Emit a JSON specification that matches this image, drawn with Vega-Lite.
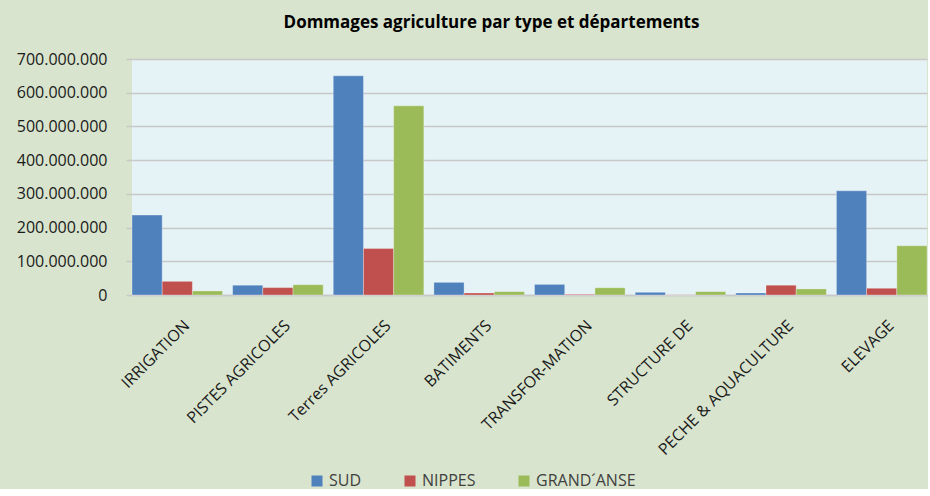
{
  "$schema": "https://vega.github.io/schema/vega-lite/v6.json",
  "width": 795,
  "height": 236,
  "padding": {"left": 16, "top": 14, "right": 0, "bottom": 0},
  "background": "#D8E4CD",
  "title": {
    "text": "Dommages agriculture par type et départements",
    "font": "Open Sans",
    "fontSize": 17,
    "fontWeight": "bold",
    "color": "#000000",
    "anchor": "middle",
    "dx": -38,
    "offset": 19
  },
  "data": {
    "values": [
      {"type": "IRRIGATION", "dept": "SUD", "value": 237000000},
      {"type": "IRRIGATION", "dept": "NIPPES", "value": 40500000},
      {"type": "IRRIGATION", "dept": "GRAND´ANSE", "value": 12000000},
      {"type": "PISTES AGRICOLES", "dept": "SUD", "value": 29000000},
      {"type": "PISTES AGRICOLES", "dept": "NIPPES", "value": 22000000},
      {"type": "PISTES AGRICOLES", "dept": "GRAND´ANSE", "value": 30500000},
      {"type": "Terres AGRICOLES", "dept": "SUD", "value": 650000000},
      {"type": "Terres AGRICOLES", "dept": "NIPPES", "value": 138000000},
      {"type": "Terres AGRICOLES", "dept": "GRAND´ANSE", "value": 561000000},
      {"type": "BATIMENTS", "dept": "SUD", "value": 37500000},
      {"type": "BATIMENTS", "dept": "NIPPES", "value": 6000000},
      {"type": "BATIMENTS", "dept": "GRAND´ANSE", "value": 10000000},
      {"type": "TRANSFOR-MATION", "dept": "SUD", "value": 31500000},
      {"type": "TRANSFOR-MATION", "dept": "NIPPES", "value": 2000000},
      {"type": "TRANSFOR-MATION", "dept": "GRAND´ANSE", "value": 21500000},
      {"type": "STRUCTURE DE", "dept": "SUD", "value": 8000000},
      {"type": "STRUCTURE DE", "dept": "NIPPES", "value": 500000},
      {"type": "STRUCTURE DE", "dept": "GRAND´ANSE", "value": 10000000},
      {"type": "PECHE & AQUACULTURE", "dept": "SUD", "value": 6000000},
      {"type": "PECHE & AQUACULTURE", "dept": "NIPPES", "value": 29000000},
      {"type": "PECHE & AQUACULTURE", "dept": "GRAND´ANSE", "value": 18000000},
      {"type": "ELEVAGE", "dept": "SUD", "value": 309000000},
      {"type": "ELEVAGE", "dept": "NIPPES", "value": 20000000},
      {"type": "ELEVAGE", "dept": "GRAND´ANSE", "value": 146000000}
    ]
  },
  "mark": {"type": "bar", "stroke": "#FFFFFF", "strokeWidth": 0.6, "strokeOpacity": 0.5},
  "encoding": {
    "x": {
      "field": "type",
      "type": "nominal",
      "sort": null,
      "scale": {"paddingInner": 0.1, "paddingOuter": 0},
      "axis": {
        "title": null,
        "labelAngle": -45,
        "labelFont": "Open Sans",
        "labelFontSize": 16,
        "labelColor": "#1a1a1a",
        "ticks": false,
        "labelPadding": 22,
        "labelOffset": 4,
        "domainColor": "#C8C8C8",
        "domainWidth": 1.5,
        "grid": false,
        "labelLimit": 300
      }
    },
    "xOffset": {
      "field": "dept",
      "type": "nominal",
      "sort": ["SUD", "NIPPES", "GRAND´ANSE"],
      "scale": {"paddingInner": 0, "paddingOuter": 0}
    },
    "y": {
      "field": "value",
      "type": "quantitative",
      "scale": {"domain": [0, 700000000], "nice": false},
      "axis": {
        "title": null,
        "values": [0, 100000000, 200000000, 300000000, 400000000, 500000000, 600000000, 700000000],
        "format": ",d",
        "labelFont": "Open Sans",
        "labelFontSize": 16,
        "labelColor": "#1a1a1a",
        "tickSize": 6,
        "tickColor": "#C8C8C8",
        "tickWidth": 1.5,
        "labelPadding": 19,
        "domain": false,
        "gridColor": "#C8C8C8",
        "gridWidth": 1.5
      }
    },
    "color": {
      "field": "dept",
      "type": "nominal",
      "sort": ["SUD", "NIPPES", "GRAND´ANSE"],
      "scale": {"domain": ["SUD", "NIPPES", "GRAND´ANSE"], "range": ["#4F81BD", "#C0504D", "#9BBB59"]},
      "legend": {
        "title": null,
        "orient": "none",
        "legendX": 177,
        "legendY": 414,
        "direction": "horizontal",
        "symbolType": "square",
        "symbolSize": 121,
        "symbolStrokeWidth": 0,
        "labelFont": "Open Sans",
        "labelFontSize": 16,
        "labelColor": "#404040",
        "labelOffset": 4,
        "columnPadding": 40
      }
    }
  },
  "config": {
    "locale": {
      "number": {"decimal": ",", "thousands": ".", "grouping": [3], "currency": ["", " €"]}
    },
    "view": {"fill": "#E5F3F7", "stroke": null},
    "axis": {"labelFont": "Open Sans"}
  }
}
